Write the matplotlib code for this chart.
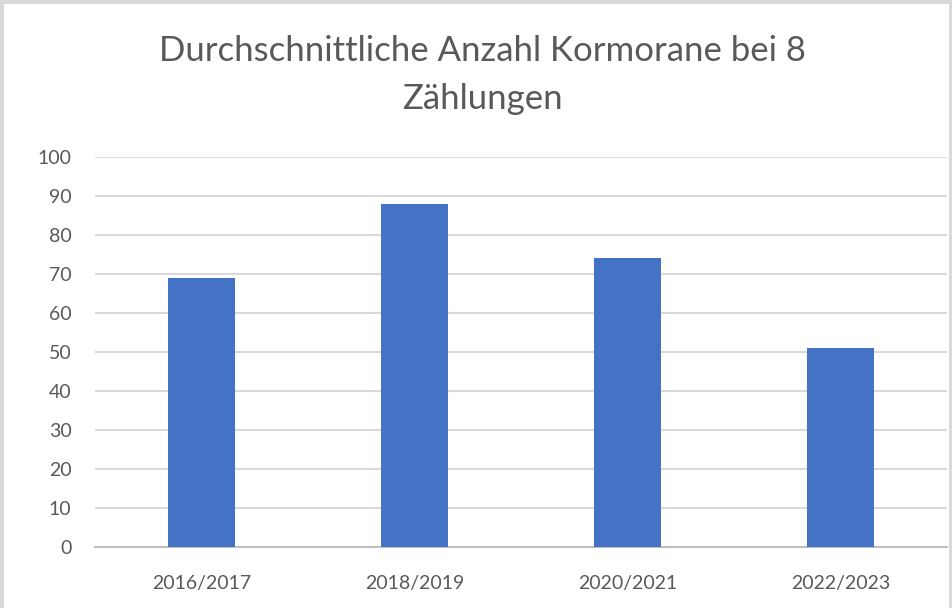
import matplotlib.pyplot as plt
from matplotlib.patches import Rectangle

seasons = ['2016/2017', '2018/2019', '2020/2021', '2022/2023']
avg_count = [69, 88, 74, 51]
yticks = [0, 10, 20, 30, 40, 50, 60, 70, 80, 90, 100]

plt.rcParams['font.family'] = ['Lato', 'DejaVu Sans']

fig = plt.figure(figsize=(9.53, 6.08), dpi=100)
fig.patch.set_facecolor('#d9d9d9')
# white chart area inside the grey frame
fig.patches.append(Rectangle((4 / 953, 0), 945 / 953, 604 / 608,
                             transform=fig.transFigure, facecolor='white',
                             edgecolor='none', zorder=-10))

ax = fig.add_axes([0.0997, 0.1003, 0.894, 0.6415])
ax.set_facecolor('none')
x = range(len(seasons))
ax.bar(x, avg_count, width=0.315, color='#4472c4', zorder=3)

ax.set_xlim(-0.5, len(seasons) - 0.5)
ax.set_ylim(0, 100)
ax.set_yticks(yticks)
ax.set_xticks(list(x))
ax.set_xticklabels(seasons)
ax.grid(axis='y', color='#d9d9d9', linewidth=1.5, zorder=0)
ax.set_axisbelow(True)
for s in ['top', 'right', 'left']:
    ax.spines[s].set_visible(False)
ax.spines['bottom'].set_color('#bfbfbf')
ax.spines['bottom'].set_linewidth(1.5)
ax.tick_params(axis='both', length=0, labelsize=14, labelcolor='#595959')
ax.tick_params(axis='y', pad=17)
ax.tick_params(axis='x', pad=20)

fig.text(0.506, 0.877, 'Durchschnittliche Anzahl Kormorane bei 8\nZählungen',
         ha='center', va='center', fontsize=25, color='#595959',
         linespacing=1.6)

fig.savefig('out.png', dpi=100, facecolor=fig.get_facecolor())
